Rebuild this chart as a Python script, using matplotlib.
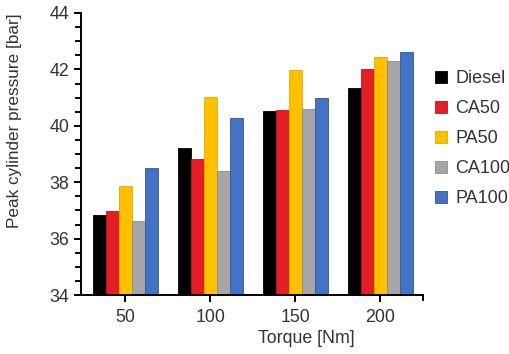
import numpy as np
import matplotlib
matplotlib.use("Agg")
import matplotlib.pyplot as plt
from matplotlib.ticker import MultipleLocator, FixedLocator

plt.rcParams['font.family'] = ['Liberation Sans', 'DejaVu Sans']

torque = ['50', '100', '150', '200']
series = ['Diesel', 'CA50', 'PA50', 'CA100', 'PA100']
diesel = [36.84, 39.20, 40.52, 41.33]
ca50 = [36.98, 38.81, 40.56, 42.01]
pa50 = [37.87, 41.03, 41.98, 42.43]
ca100 = [36.62, 38.41, 40.60, 42.30]
pa100 = [38.50, 40.27, 40.99, 42.61]

values = [diesel, ca50, pa50, ca100, pa100]
colors = ['#000000', '#e41e26', '#ffc000', '#a6a6a6', '#4472c4']
edges = ['#000000', '#c0141a', '#e0a800', '#8c8c8c', '#2f55a0']

fig = plt.figure(figsize=(5.1, 3.54), dpi=100)
ax = fig.add_axes([81 / 510, 1 - 295 / 354, 342 / 510, 282 / 354])

x = np.arange(len(torque))
w = 0.153
for i, (name, vals) in enumerate(zip(series, values)):
    ax.bar(x + (i - 2) * w, np.array(vals) - 34, bottom=34, width=w,
           color=colors[i], edgecolor=edges[i], linewidth=0.6, label=name)

ax.set_ylim(34, 44)
ax.set_xlim(-0.52, 3.5)
ax.set_xticks(x)
ax.set_xticklabels(torque)
ax.yaxis.set_major_locator(MultipleLocator(2))
ax.yaxis.set_minor_locator(MultipleLocator(0.5))
ax.xaxis.set_minor_locator(FixedLocator([3.5]))

for s in ['top', 'right']:
    ax.spines[s].set_visible(False)
for s in ['left', 'bottom']:
    ax.spines[s].set_linewidth(1.4)

ax.tick_params(axis='both', which='major', labelsize=12.8, width=1.4, length=5,
               colors='black', labelcolor='#333333')
ax.tick_params(axis='both', which='minor', width=1.4, length=4)
ax.tick_params(axis='x', pad=5)

ax.set_ylabel('Peak cylinder pressure [bar]', fontsize=12.3, color='#333333')
ax.yaxis.set_label_coords(-0.173, 0.617)
ax.set_xlabel('Torque [Nm]', fontsize=12.8, color='#333333')
ax.xaxis.set_label_coords(0.66, -0.125)

ax.legend(loc='upper left', bbox_to_anchor=(428 / 510, 1 - 63 / 354),
          bbox_transform=fig.transFigure, frameon=False, fontsize=13,
          handlelength=0.65, handleheight=0.65, handletextpad=0.45,
          labelspacing=0.72, borderaxespad=0, labelcolor='#333333')

fig.savefig('out.png', dpi=100, facecolor='white')
